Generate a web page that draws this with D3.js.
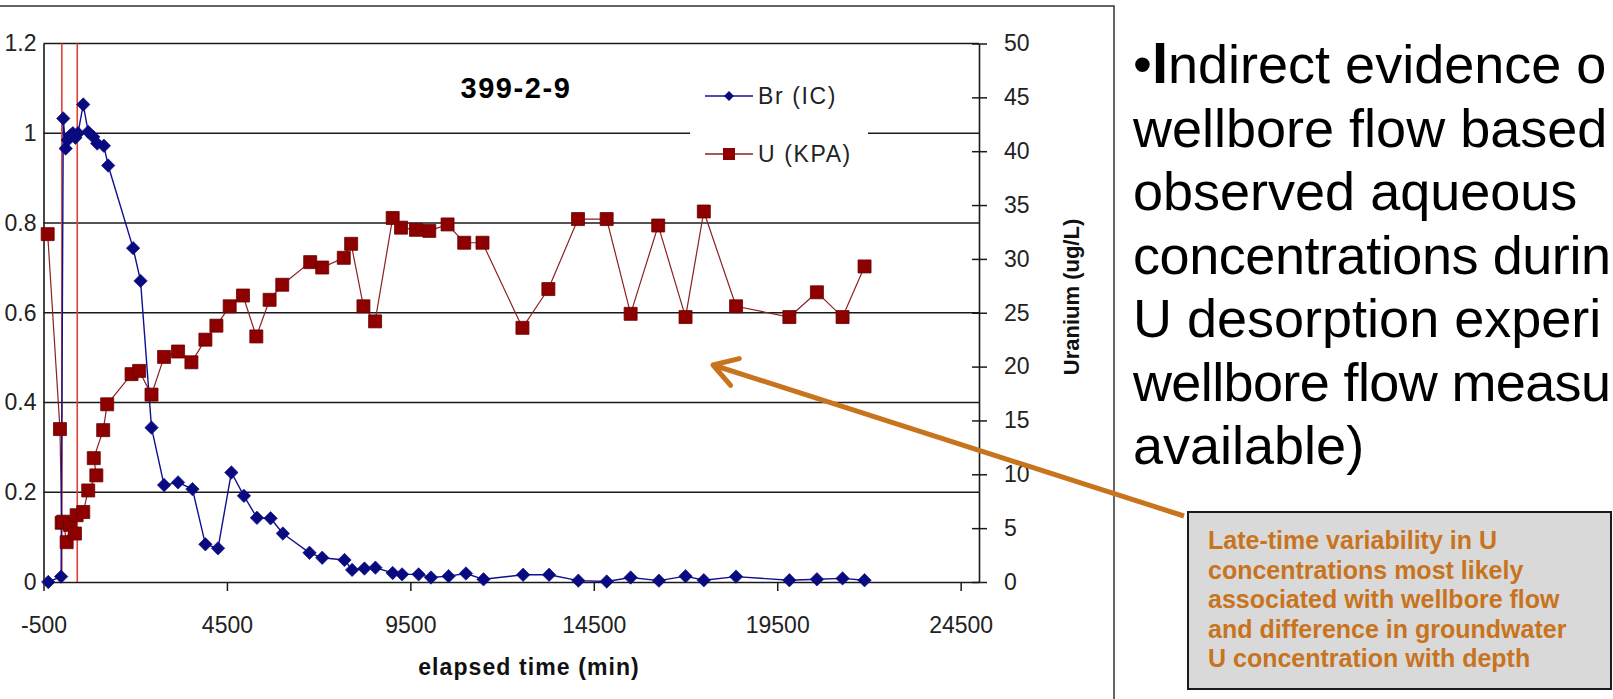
<!DOCTYPE html>
<html><head><meta charset="utf-8">
<script src="https://cdn.jsdelivr.net/npm/d3@7"></script>
<style>
body{margin:0;background:#fff;overflow:hidden}
svg{display:block}
text{font-family:"Liberation Sans",Arial,sans-serif}
</style></head>
<body>
<script>
// ---- data ----
const brTime  = [-370,-20,39,104,160,230,300,370,440,583,719,855,964,1146,1263,1943,2145,2444,2787,3168,3560,3913,4257,4621,4964,5318,5690,6025,6751,7097,7704,7913,8248,8547,9018,9274,9725,10063,10542,11015,11494,12574,13282,14079,14852,15505,16275,17001,17499,18378,19831,20582,21281,21880];
const brValue = [0,0.012,1.033,0.966,0.985,0.995,1.0,0.99,1.0,1.064,1.003,0.992,0.977,0.972,0.928,0.744,0.671,0.344,0.216,0.222,0.207,0.084,0.075,0.244,0.192,0.143,0.142,0.108,0.065,0.054,0.049,0.027,0.030,0.032,0.020,0.017,0.017,0.010,0.013,0.019,0.006,0.016,0.016,0.003,0.001,0.010,0.003,0.013,0.004,0.012,0.004,0.006,0.008,0.004];
const uTime  = [-386,-51,-5,39,131,221,357,403,583,719,940,870,1127,1236,1900,2107,2444,2787,3168,3532,3913,4213,4575,4937,5301,5663,6008,6770,7097,7685,7886,8221,8539,9018,9246,9654,10016,10514,10968,11466,12555,13262,14070,14851,15504,16256,17001,17499,18378,19831,20582,21281,21880];
const uValue = [32.3,14.2,5.5,5.6,3.7,5.3,4.5,6.2,6.5,8.5,9.9,11.5,14.1,16.5,19.3,19.6,17.4,20.9,21.4,20.4,22.5,23.8,25.6,26.6,22.8,26.2,27.6,29.7,29.2,30.1,31.4,25.6,24.2,33.8,32.9,32.7,32.6,33.2,31.5,31.5,23.6,27.2,33.7,33.7,24.9,33.1,24.6,34.4,25.6,24.6,26.9,24.6,29.3];
const xTicks = [-500,4500,9500,14500,19500,24500];
const leftTicks = [0,0.2,0.4,0.6,0.8,1,1.2];
const rightTicks = [0,5,10,15,20,25,30,35,40,45,50];
const markerTimes = [0,420];
const seriesNames = ["Br (IC)","U (KPA)"];
const chartTitle = "399-2-9";
const xTitle = "elapsed time (min)";
const yRightTitle = "Uranium (ug/L)";
// bullet text as visible in the reference (cut by the slide edge)
const bulletLines = ["ndirect evidence o","wellbore flow based","observed aqueous","concentrations durin","U desorption experi","wellbore flow measu","available)"];
const noteLines = ["Late-time variability in U","concentrations most likely","associated with wellbore flow","and difference in groundwater","U concentration with depth"];

const W=1613,H=699;
const svg=d3.select("body").append("svg").attr("width",W).attr("height",H);
svg.append("rect").attr("width",W).attr("height",H).attr("fill","#fff");

const L=43.5,R=979,T=43.5,B=582;
const x=d3.scaleLinear().domain([-500,25000]).range([L,R]);
const yL=d3.scaleLinear().domain([0,1.2]).range([B,T]);
const yR=d3.scaleLinear().domain([0,50]).range([B,T]);

// chart border
svg.append("rect").attr("x",-2).attr("y",6).attr("width",1116).attr("height",720)
  .attr("fill","none").attr("stroke","#333").attr("stroke-width",1.5);

// gridlines
svg.append("g").selectAll("line").data(leftTicks.filter(v=>v>0)).join("line")
  .attr("x1",L).attr("x2",R).attr("y1",d=>yL(d)).attr("y2",d=>yL(d))
  .attr("stroke","#1a1a1a").attr("stroke-width",1.6);

// legend background (interrupts gridline)
svg.append("rect").attr("x",690).attr("y",66).attr("width",178).attr("height",120).attr("fill","#fff");

// left axis
const gl=svg.append("g").attr("transform",`translate(${L},0)`)
  .call(d3.axisLeft(yL).tickValues(leftTicks).tickSize(0).tickPadding(7).tickFormat(d=>String(d)));
gl.select(".domain").attr("stroke","#1a1a1a").attr("stroke-width",1.6);
gl.selectAll("text").attr("font-size",23).attr("fill","#222").attr("font-family","Liberation Sans, Arial");

// bottom axis
const gb=svg.append("g").attr("transform",`translate(0,${B})`)
  .call(d3.axisBottom(x).tickValues(xTicks).tickSize(9).tickSizeOuter(0).tickFormat(d=>String(d)));
gb.select(".domain").attr("stroke","#1a1a1a").attr("stroke-width",1.6);
gb.selectAll("line").attr("stroke","#1a1a1a").attr("stroke-width",1.5);
gb.selectAll("text").attr("font-size",23).attr("fill","#222").attr("y",51).attr("dy",0).attr("font-family","Liberation Sans, Arial");

// right axis
const gr=svg.append("g").attr("transform",`translate(${R},0)`)
  .call(d3.axisRight(yR).tickValues(rightTicks).tickSize(8).tickSizeOuter(0).tickPadding(17));
gr.select(".domain").attr("stroke","#1a1a1a").attr("stroke-width",1.6);
gr.selectAll(".tick line").attr("x1",-7).attr("stroke","#1a1a1a").attr("stroke-width",1.5);
gr.selectAll("text").attr("font-size",23).attr("fill","#222").attr("font-family","Liberation Sans, Arial");

// red vertical marker lines
svg.append("g").selectAll("line").data(markerTimes).join("line")
  .attr("x1",d=>x(d)).attr("x2",d=>x(d)).attr("y1",T).attr("y2",B)
  .attr("stroke","#e0403a").attr("stroke-width",1.6);

// series
const brData=brTime.map((t,i)=>({t,v:brValue[i]}));
const uData=uTime.map((t,i)=>({t,v:uValue[i]}));
svg.append("path").datum(uData).attr("fill","none").attr("stroke","#8b2020").attr("stroke-width",1.2)
  .attr("d",d3.line().x(d=>x(d.t)).y(d=>yR(d.v)));
svg.append("path").datum(brData).attr("fill","none").attr("stroke","#101090").attr("stroke-width",1.4)
  .attr("d",d3.line().x(d=>x(d.t)).y(d=>yL(d.v)));
const sq=d3.symbol(d3.symbolSquare,169);
const dm=d3.symbol(d3.symbolSquare,90);
svg.append("g").selectAll("path").data(uData).join("path")
  .attr("d",sq).attr("transform",d=>`translate(${x(d.t)},${yR(d.v)})`)
  .attr("fill","#8e0000").attr("stroke","#6a0000").attr("stroke-width",0.8);
svg.append("g").selectAll("path").data(brData).join("path")
  .attr("d",dm).attr("transform",d=>`translate(${x(d.t)},${yL(d.v)}) rotate(45)`)
  .attr("fill","#0a0a80").attr("stroke","#0a0a80").attr("stroke-width",0.6);

// legend
const lg=svg.append("g");
[96,154].forEach((yy,i)=>{
  lg.append("line").attr("x1",705).attr("x2",753).attr("y1",yy).attr("y2",yy)
    .attr("stroke",i?"#8b2020":"#101090").attr("stroke-width",1.4);
  lg.append("path").attr("d",i?d3.symbol(d3.symbolSquare,144)():d3.symbol(d3.symbolSquare,50)())
    .attr("transform",`translate(729,${yy})`+(i?"":" rotate(45)")).attr("fill",i?"#8e0000":"#0a0a80");
  lg.append("text").attr("x",758).attr("y",yy).attr("dy","0.36em").attr("font-size",23)
    .attr("letter-spacing",1.6).attr("fill","#222").text(seriesNames[i]);
});

// titles
svg.append("text").attr("x",516).attr("y",98).attr("text-anchor","middle").attr("font-size",29)
  .attr("font-weight","bold").attr("letter-spacing",1.6).attr("fill","#000").text(chartTitle);
svg.append("text").attr("x",529).attr("y",675).attr("text-anchor","middle").attr("font-size",23)
  .attr("font-weight","bold").attr("letter-spacing",1.1).attr("fill","#111").text(xTitle);
svg.append("text").attr("transform","translate(1071,297) rotate(-90)").attr("text-anchor","middle")
  .attr("dy","0.36em").attr("font-size",22).attr("font-weight","bold").attr("fill","#111").text(yRightTitle);

// bullet text
const bt=svg.append("g");
const bx=1133, rightEdge=1611;
bulletLines.forEach((s,i)=>{
  const t=bt.append("text").attr("x",bx).attr("y",83+i*63.5).attr("font-size",54).attr("fill","#000");
  if(i===0){
    t.append("tspan").text("\u2022");
    t.append("tspan").attr("font-weight","bold").attr("font-size",58).text("I");
    t.append("tspan").text(s);
  } else t.text(s);
  const w=t.node().getComputedTextLength();
  if(bx+w>rightEdge){ t.attr("textLength",rightEdge-bx).attr("lengthAdjust","spacing"); }
});

// arrow
const orange="#c8741e";
const tip=[713,365], tail=[1184,516];
svg.append("line").attr("x1",tail[0]).attr("y1",tail[1]).attr("x2",tip[0]).attr("y2",tip[1])
  .attr("stroke",orange).attr("stroke-width",5);
const ang=Math.atan2(tail[1]-tip[1],tail[0]-tip[0]);
const a1=ang+0.55,a2=ang-0.55,al=27;
svg.append("path").attr("d",`M${tip[0]+al*Math.cos(a1)},${tip[1]+al*Math.sin(a1)}L${tip[0]},${tip[1]}L${tip[0]+al*Math.cos(a2)},${tip[1]+al*Math.sin(a2)}`)
  .attr("fill","none").attr("stroke",orange).attr("stroke-width",5).attr("stroke-linecap","round").attr("stroke-linejoin","round");

// note box
svg.append("rect").attr("x",1188).attr("y",512).attr("width",423).attr("height",177)
  .attr("fill","#d9d9d9").attr("stroke","#1a1a1a").attr("stroke-width",2);
noteLines.forEach((s,i)=>{
  svg.append("text").attr("x",1208).attr("y",549+i*29.5).attr("font-size",25).attr("font-weight","bold")
    .attr("fill",orange).text(s);
});
</script>
</body></html>
